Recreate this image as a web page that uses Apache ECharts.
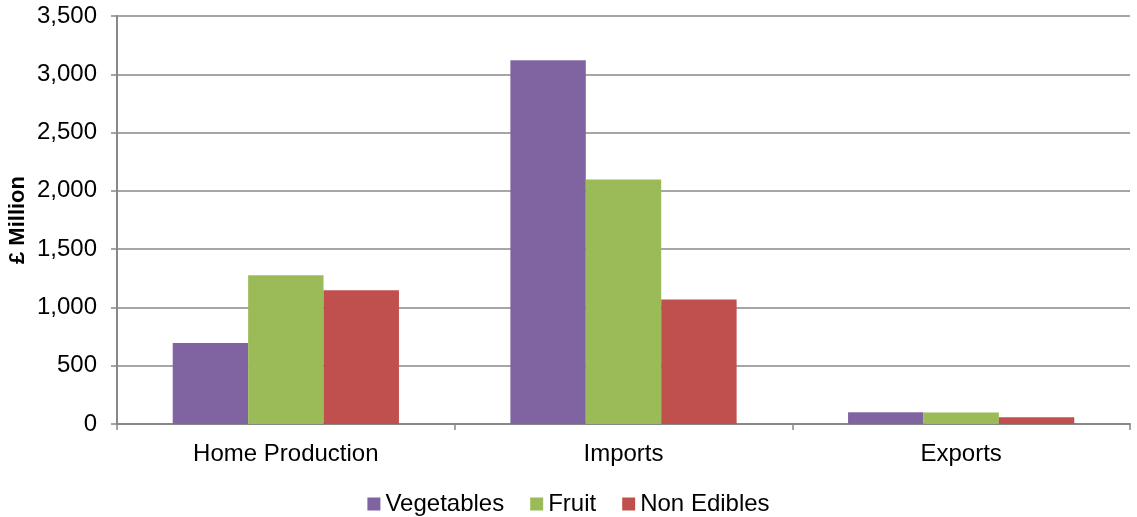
<!DOCTYPE html>
<html>
<head>
<meta charset="utf-8">
<script src="https://cdn.jsdelivr.net/npm/echarts@6/dist/echarts.min.js"></script>
<style>
  html, body { margin: 0; padding: 0; background: #fff; }
  #chart { width: 1137px; height: 517px; }
</style>
</head>
<body>
<div id="chart"></div>
<script>
// Fruit & vegetable trade, £ million
const categories = ['Home Production', 'Imports', 'Exports'];
const vegetables = [695, 3120, 100];
const fruit = [1276, 2097, 98];
const nonEdibles = [1147, 1067, 57];
const yTicks = [0, 500, 1000, 1500, 2000, 2500, 3000, 3500];

const font = 'Liberation Sans, Arial, sans-serif';
const chart = echarts.init(document.getElementById('chart'), null, { renderer: 'canvas' });

chart.setOption({
  animation: false,
  textStyle: { fontFamily: font },
  grid: { left: 117, right: 7, top: 16, bottom: 93, containLabel: false, outerBoundsMode: 'none' },
  legend: {
    top: 492,
    left: 'center',
    padding: 0,
    itemWidth: 13,
    itemHeight: 13,
    itemGap: 26,
    icon: 'rect',
    textStyle: { fontFamily: font, fontSize: 24, color: '#000' },
    data: ['Vegetables', 'Fruit', 'Non Edibles']
  },
  xAxis: {
    type: 'category',
    data: categories,
    axisLine: { lineStyle: { color: '#888', width: 2 } },
    axisTick: { show: true, length: 6, lineStyle: { color: '#888', width: 1.5 } },
    axisLabel: { fontFamily: font, fontSize: 24, color: '#000', margin: 18 }
  },
  yAxis: {
    type: 'value',
    min: yTicks[0],
    max: yTicks[yTicks.length - 1],
    interval: 500,
    name: '£ Million',
    nameLocation: 'middle',
    nameGap: 88,
    nameMoveOverlap: false,
    nameTextStyle: { fontFamily: font, fontSize: 22, fontWeight: 'bold', color: '#000' },
    axisLine: { show: true, lineStyle: { color: '#888', width: 2 } },
    axisTick: { show: true, length: 6, lineStyle: { color: '#888', width: 1.5 } },
    splitLine: { show: true, lineStyle: { color: '#888', width: 1.5 } },
    axisLabel: {
      fontFamily: font, fontSize: 24, color: '#000', margin: 20,
      formatter: v => v.toLocaleString('en-GB')
    }
  },
  series: [
    { name: 'Vegetables', type: 'bar', data: vegetables, barGap: '0%', barCategoryGap: '33%',
      itemStyle: { color: '#8064A2' } },
    { name: 'Fruit', type: 'bar', data: fruit, barGap: '0%', barCategoryGap: '33%',
      itemStyle: { color: '#9BBB59' } },
    { name: 'Non Edibles', type: 'bar', data: nonEdibles, barGap: '0%', barCategoryGap: '33%',
      itemStyle: { color: '#C0504D' } }
  ]
});
</script>
</body>
</html>
